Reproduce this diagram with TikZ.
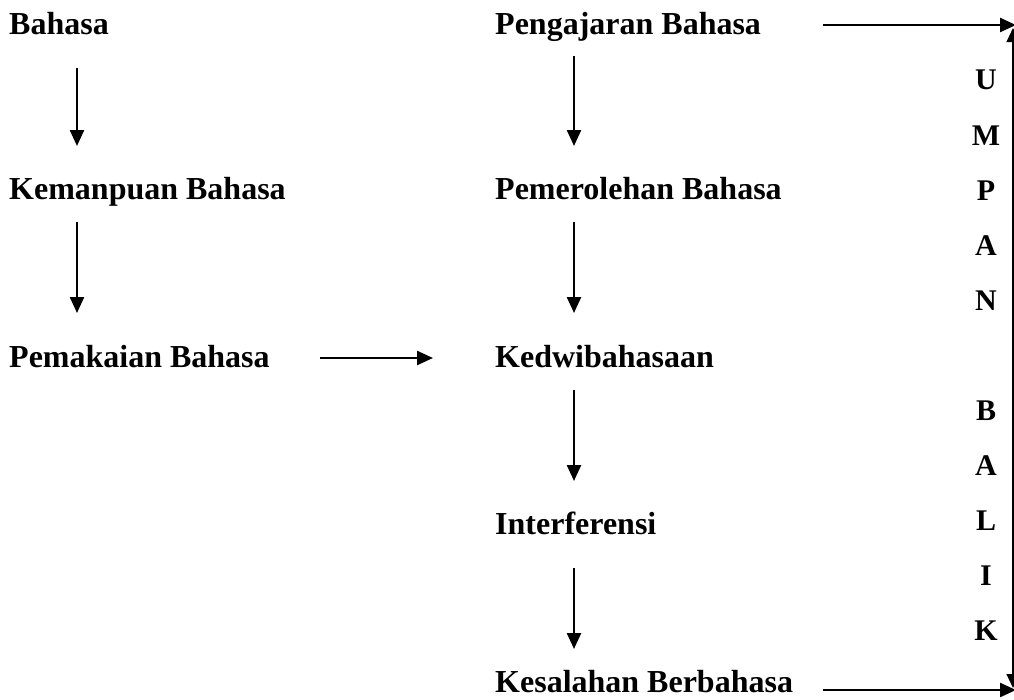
\documentclass[tikz,border=0pt]{standalone}
\usepackage{fontspec}
\setmainfont{Liberation Serif}
\usetikzlibrary{arrows.meta}
\begin{document}
\begin{tikzpicture}[x=1pt,y=-1pt,
  lbl/.style={anchor=base west,inner sep=0pt,font=\fontsize{32}{38}\selectfont\bfseries},
  ltr/.style={anchor=base,inner sep=0pt,font=\fontsize{30}{34}\selectfont\bfseries},
  arr/.style={line width=2.4pt,-{Triangle[length=16pt,width=14pt]}},
  fb/.style={line width=1.2pt,{Triangle[length=14pt,width=13pt]}-{Triangle[length=14pt,width=13pt]}}]
\useasboundingbox (0,0) rectangle (1014,699);
% left column
\node[lbl] (bah) at (9,34) {Bahasa};
\node[lbl] (kem) at (9,199) {Kemanpuan Bahasa};
\node[lbl] (pem) at (9,367) {Pemakaian Bahasa};
% middle column
\node[lbl] (pen) at (495,34) {Pengajaran Bahasa};
\node[lbl] (per) at (495,199) {Pemerolehan Bahasa};
\node[lbl] (ked) at (495,367) {Kedwibahasaan};
\node[lbl] (int) at (495,534) {Interferensi};
\node[lbl] (kes) at (495,692) {Kesalahan Berbahasa};
% arrow end points
\coordinate (a1s) at (77,68);  \coordinate (a1e) at (77,146);
\coordinate (a2s) at (77,222); \coordinate (a2e) at (77,313);
\coordinate (b1s) at (574,56); \coordinate (b1e) at (574,146);
\coordinate (b2s) at (574,222); \coordinate (b2e) at (574,313);
\coordinate (b3s) at (574,390); \coordinate (b3e) at (574,481);
\coordinate (b4s) at (574,568); \coordinate (b4e) at (574,649);
\coordinate (hs) at (320,358); \coordinate (he) at (433,358);
\coordinate (ts) at (823,25); \coordinate (te) at (1016,25);
\coordinate (bs) at (823,690); \coordinate (be) at (1016,690);
\coordinate (vt) at (1013,28); \coordinate (vb) at (1013,688);
\draw[arr] (a1s) -- (a1e);
\draw[arr] (a2s) -- (a2e);
\draw[arr] (b1s) -- (b1e);
\draw[arr] (b2s) -- (b2e);
\draw[arr] (b3s) -- (b3e);
\draw[arr] (b4s) -- (b4e);
\draw[arr] (hs) -- (he);
\draw[arr] (ts) -- (te);
\draw[arr] (bs) -- (be);
\draw[fb] (vt) -- (vb);
% vertical letters
\node[ltr] (l1) at (986,89) {U};
\node[ltr] (l2) at (986,145) {M};
\node[ltr] (l3) at (986,200) {P};
\node[ltr] (l4) at (986,255) {A};
\node[ltr] (l5) at (986,310) {N};
\node[ltr] (l6) at (986,420) {B};
\node[ltr] (l7) at (986,475) {A};
\node[ltr] (l8) at (986,530) {L};
\node[ltr] (l9) at (986,585) {I};
\node[ltr] (l10) at (986,640) {K};
\end{tikzpicture}
\end{document}
